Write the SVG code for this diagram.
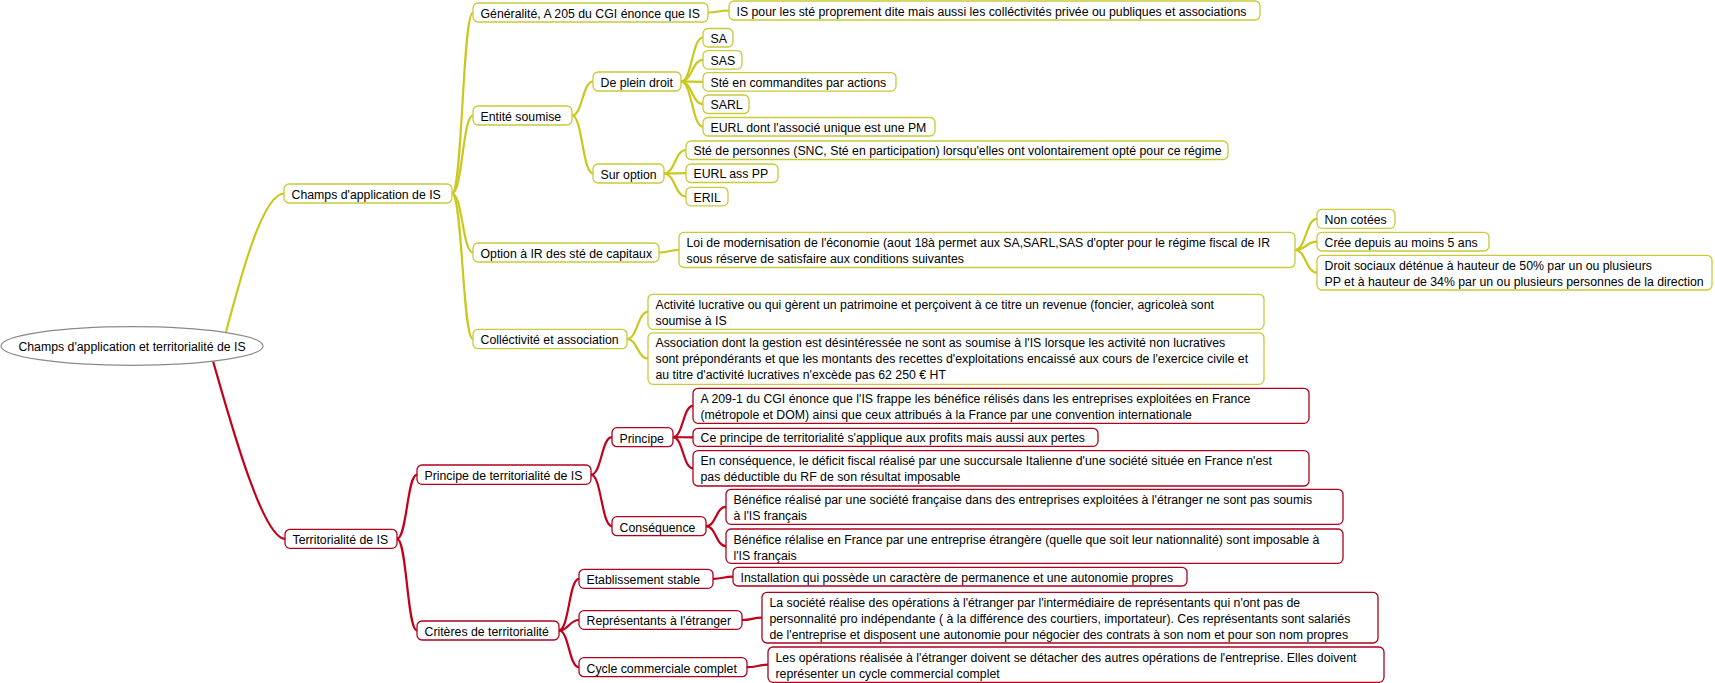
<svg xmlns="http://www.w3.org/2000/svg" width="1715" height="683" viewBox="0 0 1715 683">
<style>
text{font-family:"Liberation Sans",Arial,sans-serif;font-size:12.3px;fill:#000}
.y rect{fill:#fff;stroke:#c9c93a;stroke-width:1.3}
.r rect{fill:#fff;stroke:#b0001e;stroke-width:1.3}
#connectors path{fill:none;stroke-width:2.2}
.yc{stroke:#c8c81e}
.rc{stroke:#c2001c}
</style>
<rect width="1715" height="683" fill="#fff"/>
<g id="connectors">
<g class="yc">
<path d="M226,332 C240,280 262,194 284,193.5"/>
<path d="M452,193.5 C462.5,193.5 462.5,12.5 473,12.5"/>
<path d="M452,193.5 C462.5,193.5 462.5,115.5 473,115.5"/>
<path d="M452,193.5 C462.5,193.5 462.5,252.5 473,252.5"/>
<path d="M452,193.5 C462.5,193.5 462.5,339 473,339"/>
<path d="M708,12.5 C718.5,12.5 718.5,10.5 729,10.5"/>
<path d="M572,115.5 C582.5,115.5 582.5,81.5 593,81.5"/>
<path d="M572,115.5 C582.5,115.5 582.5,173.5 593,173.5"/>
<path d="M681,81.5 C692,81.5 692,37.5 703,37.5"/>
<path d="M681,81.5 C692,81.5 692,59.8 703,59.8"/>
<path d="M681,81.5 C692,81.5 692,81.8 703,81.8"/>
<path d="M681,81.5 C692,81.5 692,104.2 703,104.2"/>
<path d="M681,81.5 C692,81.5 692,126.7 703,126.7"/>
<path d="M664,173.5 C675,173.5 675,150 686,150"/>
<path d="M664,173.5 C675,173.5 675,173.2 686,173.2"/>
<path d="M664,173.5 C675,173.5 675,196.5 686,196.5"/>
<path d="M659,252.5 C669,252.5 669,250 679,250"/>
<path d="M1295,250 C1306,250 1306,218.8 1317,218.8"/>
<path d="M1295,250 C1306,250 1306,241.7 1317,241.7"/>
<path d="M1295,250 C1306,250 1306,272.7 1317,272.7"/>
<path d="M627,339 C637.5,339 637.5,311.8 648,311.8"/>
<path d="M627,339 C637.5,339 637.5,358.5 648,358.5"/>
</g>
<g class="rc">
<path d="M213,361 C228,413 262,539 285,538.8"/>
<path d="M397,538.8 C407,538.8 407,474.7 417,474.7"/>
<path d="M397,538.8 C407,538.8 407,630.5 417,630.5"/>
<path d="M591,474.7 C601.5,474.7 601.5,437.2 612,437.2"/>
<path d="M591,474.7 C601.5,474.7 601.5,526.2 612,526.2"/>
<path d="M673,437.2 C683,437.2 683,405.8 693,405.8"/>
<path d="M673,437.2 C683,437.2 683,437.3 693,437.3"/>
<path d="M673,437.2 C683,437.2 683,468.3 693,468.3"/>
<path d="M706,526.2 C716,526.2 716,506.8 726,506.8"/>
<path d="M706,526.2 C716,526.2 716,546.2 726,546.2"/>
<path d="M559,630.5 C569,630.5 569,578.8 579,578.8"/>
<path d="M559,630.5 C569,630.5 569,620 579,620"/>
<path d="M559,630.5 C569,630.5 569,667.2 579,667.2"/>
<path d="M713,578.8 C723,578.8 723,576.7 733,576.7"/>
<path d="M742,620 C752,620 752,617.7 762,617.7"/>
<path d="M747,667.2 C757.5,667.2 757.5,664.7 768,664.7"/>
</g>
</g>

<g id="root">
<ellipse cx="132" cy="346" rx="131" ry="19.3" fill="#fff" stroke="#8a8a8a" stroke-width="1.2"/>
<text x="132" y="350.8" text-anchor="middle">Champs d'application et territorialité de IS</text>
</g>

<g id="champs" class="y"><rect x="284" y="184" width="168" height="19" rx="5"/><text x="291.5" y="198.8">Champs d'application de IS</text></g>
<g id="generalite" class="y"><rect x="473" y="3" width="235" height="19" rx="5"/><text x="480.5" y="17.8">Généralité, A 205 du CGI énonce que IS</text></g>
<g id="generalite-detail" class="y"><rect x="729" y="1" width="531" height="19" rx="5"/><text x="736.5" y="15.8">IS pour les sté proprement dite mais aussi les colléctivités privée ou publiques et associations</text></g>
<g id="entite" class="y"><rect x="473" y="106" width="99" height="19" rx="5"/><text x="480.5" y="120.8">Entité soumise</text></g>
<g id="plein-droit" class="y"><rect x="593" y="72" width="88" height="19" rx="5"/><text x="600.5" y="86.8">De plein droit</text></g>
<g id="sa" class="y"><rect x="703" y="28.5" width="30" height="18.5" rx="5"/><text x="710.5" y="42.8">SA</text></g>
<g id="sas" class="y"><rect x="703" y="50.6" width="39" height="18.5" rx="5"/><text x="710.5" y="64.9">SAS</text></g>
<g id="ste-cmd" class="y"><rect x="703" y="72.6" width="193" height="18.5" rx="5"/><text x="710.5" y="86.9">Sté en commandites par actions</text></g>
<g id="sarl" class="y"><rect x="703" y="95" width="46" height="18.5" rx="5"/><text x="710.5" y="109.3">SARL</text></g>
<g id="eurl-pm" class="y"><rect x="703" y="117.5" width="232" height="18.5" rx="5"/><text x="710.5" y="131.8">EURL dont l'associé unique est une PM</text></g>
<g id="sur-option" class="y"><rect x="593" y="164" width="71" height="19" rx="5"/><text x="600.5" y="178.8">Sur option</text></g>
<g id="ste-pers" class="y"><rect x="686" y="141" width="542" height="18.5" rx="5"/><text x="693.5" y="155.3">Sté de personnes (SNC, Sté en participation) lorsqu'elles ont volontairement opté pour ce régime</text></g>
<g id="eurl-pp" class="y"><rect x="686" y="164" width="92" height="18.5" rx="5"/><text x="693.5" y="178.3">EURL ass PP</text></g>
<g id="eril" class="y"><rect x="686" y="187.3" width="42" height="18.5" rx="5"/><text x="693.5" y="201.6">ERIL</text></g>
<g id="option-ir" class="y"><rect x="473" y="243" width="186" height="19" rx="5"/><text x="480.5" y="257.8">Option à IR des sté de capitaux</text></g>
<g id="loi" class="y"><rect x="679" y="232.3" width="616" height="35.2" rx="5"/><text x="686.5" y="247"><tspan>Loi de modernisation de l'économie (aout 18à permet aux SA,SARL,SAS d'opter pour le régime fiscal de IR</tspan><tspan x="686.5" dy="16">sous réserve de satisfaire aux conditions suivantes</tspan></text></g>
<g id="non-cotees" class="y"><rect x="1317" y="209.3" width="78" height="19" rx="5"/><text x="1324.5" y="224">Non cotées</text></g>
<g id="cree" class="y"><rect x="1317" y="232.3" width="172" height="18.7" rx="5"/><text x="1324.5" y="246.9">Crée depuis au moins 5 ans</text></g>
<g id="droit-sociaux" class="y"><rect x="1317" y="255.3" width="395" height="34.7" rx="5"/><text x="1324.5" y="270"><tspan>Droit sociaux déténue à hauteur de 50% par un ou plusieurs</tspan><tspan x="1324.5" dy="16">PP et à hauteur de 34% par un ou plusieurs personnes de la direction</tspan></text></g>
<g id="collectivite" class="y"><rect x="473" y="329.3" width="154" height="19.4" rx="5"/><text x="480.5" y="344.2">Colléctivité et association</text></g>
<g id="activite" class="y"><rect x="648" y="294.3" width="616" height="35" rx="5"/><text x="655.5" y="309"><tspan>Activité lucrative ou qui gèrent un patrimoine et perçoivent à ce titre un revenue (foncier, agricoleà sont</tspan><tspan x="655.5" dy="16">soumise à IS</tspan></text></g>
<g id="association" class="y"><rect x="648" y="332.8" width="616" height="51.5" rx="5"/><text x="655.5" y="347.4"><tspan>Association dont la gestion est désintéressée ne sont as soumise à l'IS lorsque les activité non lucratives</tspan><tspan x="655.5" dy="16">sont prépondérants et que les montants des recettes d'exploitations encaissé aux cours de l'exercice civile et</tspan><tspan x="655.5" dy="16">au titre d'activité lucratives n'excède pas 62 250 € HT</tspan></text></g>

<g id="territorialite" class="r"><rect x="285" y="529.3" width="112" height="19" rx="5"/><text x="292.5" y="544.1">Territorialité de IS</text></g>
<g id="principe-territorialite" class="r"><rect x="417" y="465" width="174" height="19.3" rx="5"/><text x="424.5" y="479.9">Principe de territorialité de IS</text></g>
<g id="principe" class="r"><rect x="612" y="427.7" width="61" height="19" rx="5"/><text x="619.5" y="442.5">Principe</text></g>
<g id="a209" class="r"><rect x="693" y="388.3" width="616" height="35" rx="5"/><text x="700.5" y="403"><tspan>A 209-1 du CGI énonce que l'IS frappe les bénéfice rélisés dans les entreprises exploitées en France</tspan><tspan x="700.5" dy="16">(métropole et DOM) ainsi que ceux attribués à la France par une convention internationale</tspan></text></g>
<g id="ce-principe" class="r"><rect x="693" y="428.3" width="405" height="18" rx="5"/><text x="700.5" y="442.4">Ce principe de territorialité s'applique aux profits mais aussi aux pertes</text></g>
<g id="en-consequence" class="r"><rect x="693" y="450.7" width="616" height="35.3" rx="5"/><text x="700.5" y="465.4"><tspan>En conséquence, le déficit fiscal réalisé par une succursale Italienne d'une société située en France n'est</tspan><tspan x="700.5" dy="16">pas déductible du RF de son résultat imposable</tspan></text></g>
<g id="consequence" class="r"><rect x="612" y="516.7" width="94" height="19" rx="5"/><text x="619.5" y="531.5">Conséquence</text></g>
<g id="benefice1" class="r"><rect x="726" y="489.3" width="617" height="35" rx="5"/><text x="733.5" y="504"><tspan>Bénéfice réalisé par une société française dans des entreprises exploitées à l'étranger ne sont pas soumis</tspan><tspan x="733.5" dy="16">à l'IS français</tspan></text></g>
<g id="benefice2" class="r"><rect x="726" y="529" width="617" height="34.3" rx="5"/><text x="733.5" y="543.6"><tspan>Bénéfice rélalise en France par une entreprise étrangère (quelle que soit leur nationnalité) sont imposable à</tspan><tspan x="733.5" dy="16">l'IS français</tspan></text></g>
<g id="criteres" class="r"><rect x="417" y="621" width="142" height="19" rx="5"/><text x="424.5" y="635.8">Critères de territorialité</text></g>
<g id="etablissement" class="r"><rect x="579" y="569.3" width="134" height="19" rx="5"/><text x="586.5" y="584.1">Etablissement stable</text></g>
<g id="installation" class="r"><rect x="733" y="567.3" width="454" height="18.7" rx="5"/><text x="740.5" y="581.9">Installation qui possède un caractère de permanence et une autonomie propres</text></g>
<g id="representants" class="r"><rect x="579" y="610.7" width="163" height="18.6" rx="5"/><text x="586.5" y="625.3">Représentants à l'étranger</text></g>
<g id="la-societe" class="r"><rect x="762" y="592.3" width="616" height="50.7" rx="5"/><text x="769.5" y="606.8"><tspan>La société réalise des opérations à l'étranger par l'intermédiaire de représentants qui n'ont pas de</tspan><tspan x="769.5" dy="16">personnalité pro indépendante ( à la différence des courtiers, importateur). Ces représentants sont salariés</tspan><tspan x="769.5" dy="16">de l'entreprise et disposent une autonomie pour négocier des contrats à son nom et pour son nom propres</tspan></text></g>
<g id="cycle" class="r"><rect x="579" y="657.7" width="168" height="19" rx="5"/><text x="586.5" y="672.5">Cycle commerciale complet</text></g>
<g id="les-operations" class="r"><rect x="768" y="647" width="616" height="35.3" rx="5"/><text x="775.5" y="661.7"><tspan>Les opérations réalisée à l'étranger doivent se détacher des autres opérations de l'entreprise. Elles doivent</tspan><tspan x="775.5" dy="16">représenter un cycle commercial complet</tspan></text></g>
</svg>
